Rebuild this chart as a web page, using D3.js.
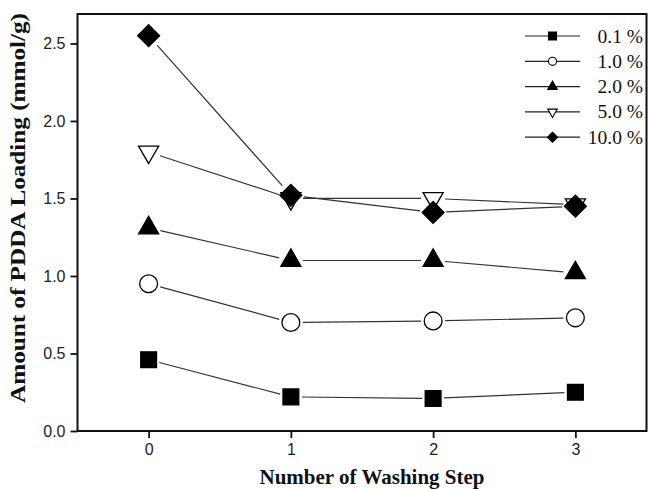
<!DOCTYPE html>
<html>
<head>
<meta charset="utf-8">
<script src="https://cdn.jsdelivr.net/npm/d3@7"></script>
<style>
  body { margin: 0; background: #fff; }
</style>
</head>
<body>
<div id="chart"></div>
<script>
// Data
const steps = [0, 1, 2, 3];
const seriesNames = ["0.1 %", "1.0 %", "2.0 %", "5.0 %", "10.0 %"];
const load01 = [0.46, 0.22, 0.21, 0.25];
const load10 = [0.95, 0.70, 0.71, 0.73];
const load20 = [1.31, 1.10, 1.10, 1.02];
const load50 = [1.80, 1.50, 1.50, 1.46];
const load100 = [2.55, 1.52, 1.41, 1.45];
const yTicks = [0, 0.5, 1.0, 1.5, 2.0, 2.5];

const W = 648, H = 489;
const margin = { top: 14, right: 1.5, bottom: 58, left: 77.5 };
const width = W - margin.left - margin.right;
const height = H - margin.top - margin.bottom;

const svg = d3.select("#chart").append("svg")
    .attr("width", W).attr("height", H);
const g = svg.append("g").attr("transform", `translate(${margin.left},${margin.top})`);

const x = d3.scaleLinear().domain([-0.5, 3.5]).range([0, width]);
const y = d3.scaleLinear().domain([0, 2.69]).range([height, 0]);

// marker styles per series
const styles = [
  { sym: d3.symbolSquare, size: 250, rot: 0, fill: "#000", r: 8, lsize: 64 },
  { sym: d3.symbolCircle, size: 250, rot: 0, fill: "#fff", r: 9, lsize: 52 },
  { sym: d3.symbolTriangle, size: 175, rot: 0, fill: "#000", r: 9, lsize: 40 },
  { sym: d3.symbolTriangle, size: 175, rot: 180, fill: "#fff", r: 9, lsize: 40 },
  { sym: d3.symbolSquare, size: 240, rot: 45, fill: "#000", r: 10, lsize: 50 }
];
const allSeries = [load01, load10, load20, load50, load100];

// axes
const xAxis = g.append("g")
    .attr("transform", `translate(0,${height})`)
    .call(d3.axisBottom(x).tickValues(steps).tickFormat(d3.format("d")).tickSize(7).tickPadding(6));
const yAxis = g.append("g")
    .call(d3.axisLeft(y).tickValues(yTicks).tickFormat(d3.format(".1f")).tickSize(7).tickPadding(5));

[xAxis, yAxis].forEach(a => {
  a.select(".domain").remove();
  a.selectAll(".tick line").attr("stroke", "#111").attr("stroke-width", 1.8);
  a.selectAll(".tick text")
    .attr("fill", "#222")
    .style("font-family", "'Liberation Sans', Arial, sans-serif")
    .style("font-size", "16px");
});

// frame
g.append("rect")
    .attr("width", width).attr("height", height)
    .attr("fill", "none").attr("stroke", "#111").attr("stroke-width", 2);

// lines with small gaps at the symbols
allSeries.forEach((vals, i) => {
  const pts = steps.map((s, k) => [x(s), y(vals[k])]);
  const gap = styles[i].r + 3;
  for (let k = 0; k < pts.length - 1; k++) {
    const [x1, y1] = pts[k], [x2, y2] = pts[k + 1];
    const len = Math.hypot(x2 - x1, y2 - y1);
    const ux = (x2 - x1) / len, uy = (y2 - y1) / len;
    g.append("line")
      .attr("x1", x1 + ux * gap).attr("y1", y1 + uy * gap)
      .attr("x2", x2 - ux * gap).attr("y2", y2 - uy * gap)
      .attr("stroke", "#333").attr("stroke-width", 1.2);
  }
});

// symbols
allSeries.forEach((vals, i) => {
  const st = styles[i];
  g.selectAll(null)
    .data(steps.map((s, k) => ({ s, v: vals[k] })))
    .join("path")
    .attr("d", d3.symbol().type(st.sym).size(st.size))
    .attr("transform", d => `translate(${x(d.s)},${y(d.v)}) rotate(${st.rot})`)
    .attr("fill", st.fill)
    .attr("stroke", "#000")
    .attr("stroke-width", 1.3);
});

// legend
const legend = svg.append("g").attr("transform", "translate(525,36)");
seriesNames.forEach((name, i) => {
  const st = styles[i];
  const row = legend.append("g").attr("transform", `translate(0,${i * 25.3})`);
  row.append("line").attr("x1", 0).attr("x2", 55)
    .attr("stroke", "#222").attr("stroke-width", 1.2);
  row.append("path")
    .attr("d", d3.symbol().type(st.sym).size(st.lsize))
    .attr("transform", `translate(27.5,0) rotate(${st.rot})`)
    .attr("fill", st.fill).attr("stroke", "#000").attr("stroke-width", 1.1);
  row.append("text")
    .attr("x", 118).attr("y", 6.5)
    .attr("text-anchor", "end")
    .style("font-family", "'Liberation Serif', 'Times New Roman', serif")
    .style("font-size", "19.5px")
    .attr("fill", "#111")
    .text(name);
});

// axis titles
svg.append("text")
    .attr("x", 372).attr("y", 484)
    .attr("text-anchor", "middle")
    .style("font-family", "'Liberation Serif', 'Times New Roman', serif")
    .style("font-weight", "bold")
    .style("font-size", "21px")
    .attr("fill", "#111")
    .text("Number of Washing Step");

svg.append("text")
    .attr("transform", "translate(25,208) rotate(-90)")
    .attr("text-anchor", "middle")
    .attr("textLength", 390)
    .attr("lengthAdjust", "spacingAndGlyphs")
    .style("font-family", "'Liberation Serif', 'Times New Roman', serif")
    .style("font-weight", "bold")
    .style("font-size", "21px")
    .attr("fill", "#111")
    .text("Amount of PDDA Loading (mmol/g)");
</script>
</body>
</html>
